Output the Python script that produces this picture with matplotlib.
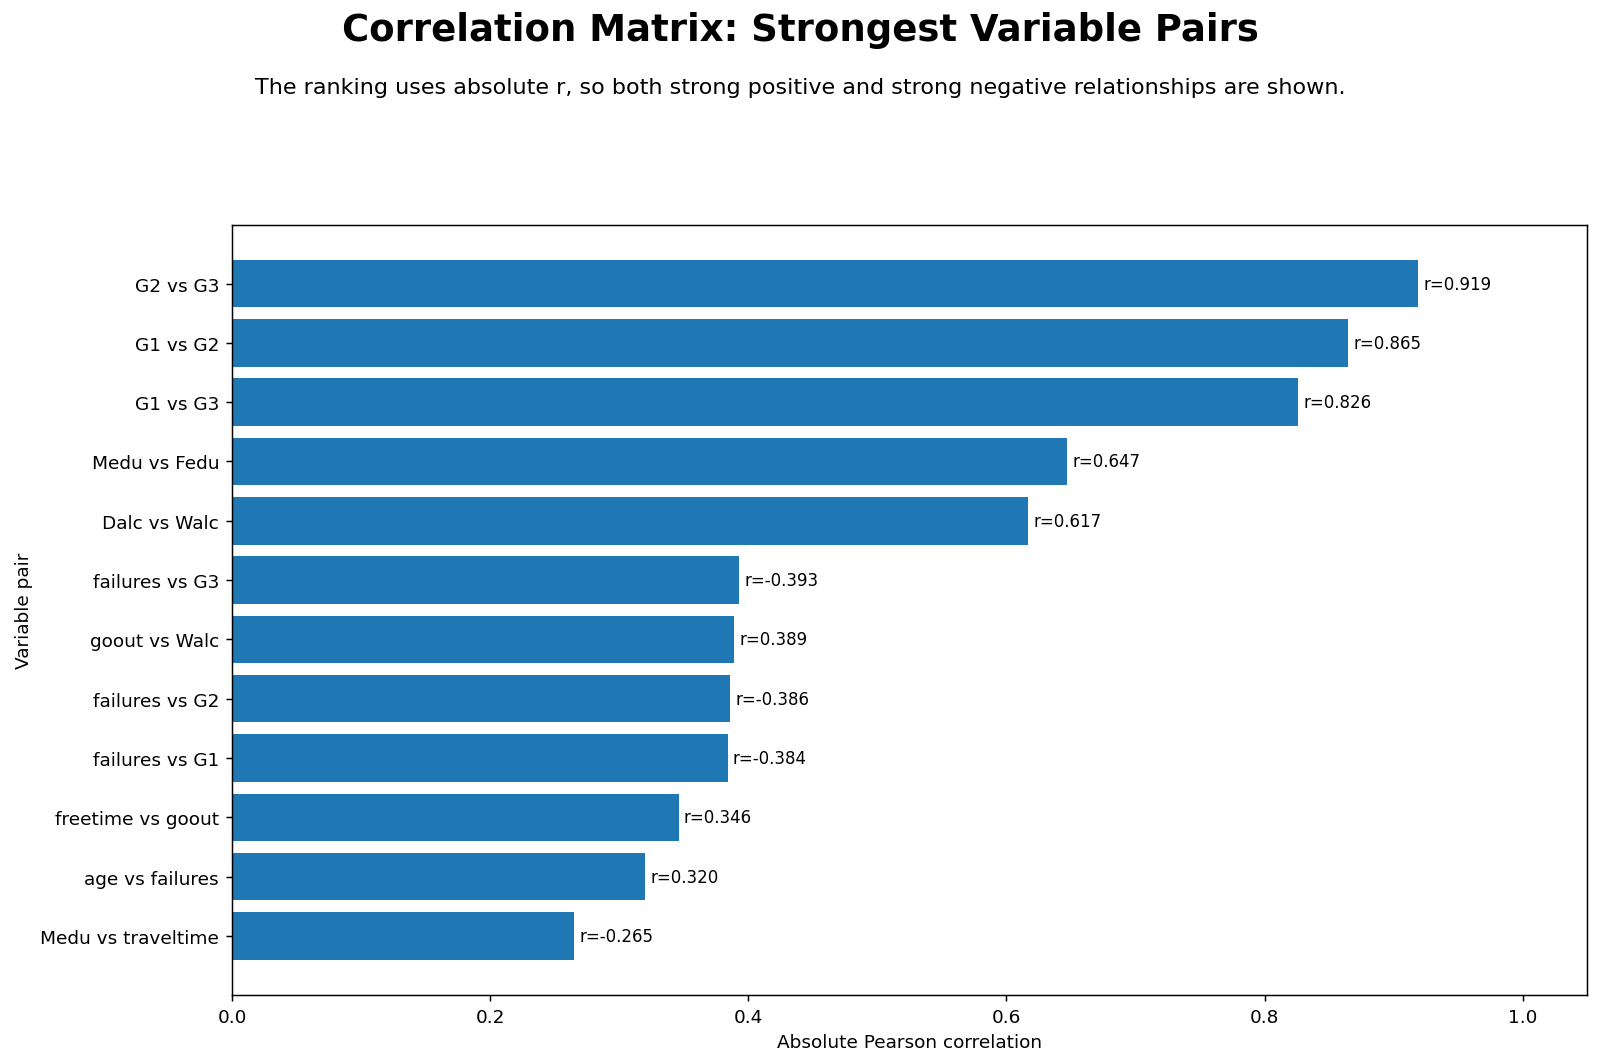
import numpy as np
import matplotlib
matplotlib.use("Agg")
import matplotlib.pyplot as plt

pairs = ["G2 vs G3", "G1 vs G2", "G1 vs G3", "Medu vs Fedu", "Dalc vs Walc",
         "failures vs G3", "goout vs Walc", "failures vs G2", "failures vs G1",
         "freetime vs goout", "age vs failures", "Medu vs traveltime"]
r_values = [0.919, 0.865, 0.826, 0.647, 0.617, -0.393, 0.389, -0.386, -0.384,
            0.346, 0.320, -0.265]

abs_r = np.abs(r_values)
y = np.arange(len(pairs))

fig = plt.figure(figsize=(12, 7.9875), dpi=133.333)
ax = fig.add_axes([0.145, 0.065, 0.847, 0.723])

ax.barh(y, abs_r, color="#1f77b4")
ax.invert_yaxis()
ax.set_yticks(y)
ax.set_yticklabels(pairs)
ax.set_xlim(0, 1.05)
ax.set_xlabel("Absolute Pearson correlation")
ax.set_ylabel("Variable pair")

for yi, v, r in zip(y, abs_r, r_values):
    ax.text(v + 0.004, yi, f"r={r:.3f}", va="center", ha="left", fontsize=9)

fig.text(0.5, 0.971, "Correlation Matrix: Strongest Variable Pairs",
         ha="center", va="center", fontsize=20, fontweight="bold")
fig.text(0.5, 0.917, "The ranking uses absolute r, so both strong positive and "
         "strong negative relationships are shown.",
         ha="center", va="center", fontsize=12)

fig.savefig("out.png", dpi=133.333)
